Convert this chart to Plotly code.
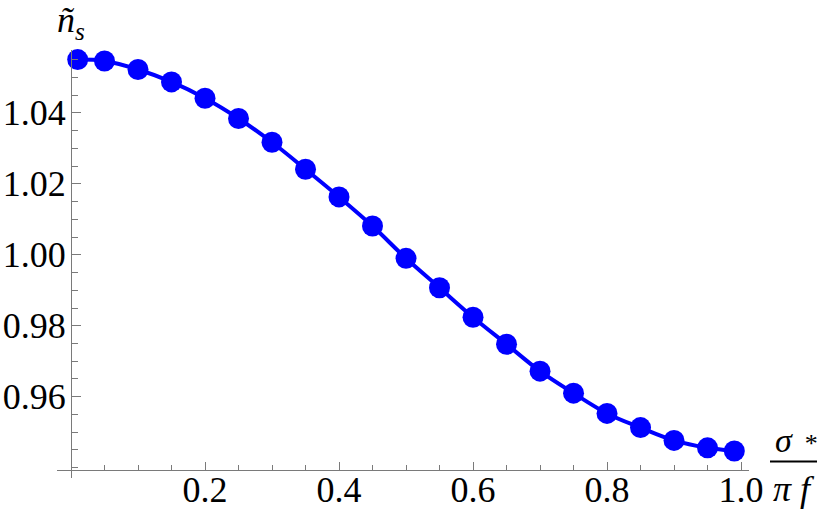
import plotly.graph_objects as go

# sigma_* / (pi f) values and the matching n_s tilde
x_vals = [0.01, 0.05, 0.10, 0.15, 0.20, 0.25, 0.30, 0.35, 0.40, 0.45, 0.50,
          0.55, 0.60, 0.65, 0.70, 0.75, 0.80, 0.85, 0.90, 0.95, 0.99]
ns_vals = [1.0550, 1.0546, 1.0522, 1.0487, 1.0441, 1.0384, 1.0317, 1.0241,
           1.0163, 1.0081, 0.9990, 0.9907, 0.9824, 0.9748, 0.9672, 0.9610,
           0.9553, 0.9513, 0.9477, 0.9456, 0.9447]

x_ticks = [0.2, 0.4, 0.6, 0.8, 1.0]
y_ticks = [0.96, 0.98, 1.00, 1.02, 1.04]

# where the axes cross (Mathematica style origin)
x_cross = 0.0
y_cross = 0.9394
x_range = [-0.0209, 1.0119]
y_range = [0.9371, 1.0577]

W, H = 830, 519
L, R, T, B = 57, 81, 50, 41
pw, ph = W - L - R, H - T - B


def px(xp):
    # window pixel -> paper x
    return (xp - L) / pw


def py(yp):
    # window pixel -> paper y
    return (H - B - yp) / ph


blue = "#0000ff"
axis_col = "#7a7a7a"
serif = "Liberation Serif, Times New Roman, serif"

fig = go.Figure()
fig.add_trace(go.Scatter(
    x=x_vals, y=ns_vals,
    mode="lines+markers",
    line=dict(color=blue, width=4, shape="spline"),
    marker=dict(color=blue, size=21),
    cliponaxis=False,
    showlegend=False,
))

fig.update_layout(
    width=W, height=H,
    margin=dict(l=L, r=R, t=T, b=B, autoexpand=False),
    paper_bgcolor="white", plot_bgcolor="white",
    font=dict(family=serif, size=36, color="black"),
    xaxis=dict(
        range=x_range, anchor="free", automargin=False,
        position=(y_cross - y_range[0]) / (y_range[1] - y_range[0]),
        showgrid=False, zeroline=False,
        showline=True, linecolor=axis_col, linewidth=1,
        tickmode="array", tickvals=x_ticks,
        ticktext=[f"{v:.1f}" for v in x_ticks],
        tickfont=dict(family=serif, size=36),
        ticks="inside", ticklen=8, tickcolor=axis_col,
        minor=dict(dtick=0.05, ticks="inside", ticklen=5, tickcolor=axis_col),
        ticklabelstandoff=-12,
    ),
    yaxis=dict(
        range=y_range, anchor="free", automargin=False,
        position=(x_cross - x_range[0]) / (x_range[1] - x_range[0]),
        showgrid=False, zeroline=False,
        showline=True, linecolor=axis_col, linewidth=1,
        tickmode="array", tickvals=y_ticks,
        ticktext=[f"{v:.2f}" for v in y_ticks],
        tickfont=dict(family=serif, size=36),
        ticks="inside", ticklen=9, tickcolor=axis_col,
        minor=dict(dtick=0.005, ticks="inside", ticklen=6, tickcolor=axis_col),
        ticklabelstandoff=-2,
    ),
)

# axis labels
lbl = dict(xref="paper", yref="paper", showarrow=False,
           xanchor="center", yanchor="middle")
fig.add_annotation(x=px(71), y=py(22), text="<i>ñ</i><sub><i>s</i></sub>",
                   font=dict(family=serif, size=36), **lbl)
fig.add_annotation(x=px(796), y=py(440),
                   text="<i>σ</i><span style='font-size:26px'>  *</span>",
                   font=dict(family=serif, size=34), **lbl)
fig.add_annotation(x=px(794), y=py(489), text="<i>π f</i>",
                   font=dict(family=serif, size=36), **lbl)
fig.add_shape(type="line", xref="paper", yref="paper",
              x0=px(770), x1=px(817), y0=py(461.5), y1=py(461.5),
              line=dict(color="black", width=2))

# drop the default 8px body margin so the figure sits at the window corner
fig.write_html("out.html", config={"displayModeBar": False},
               post_script="document.body.style.margin = '0';")
